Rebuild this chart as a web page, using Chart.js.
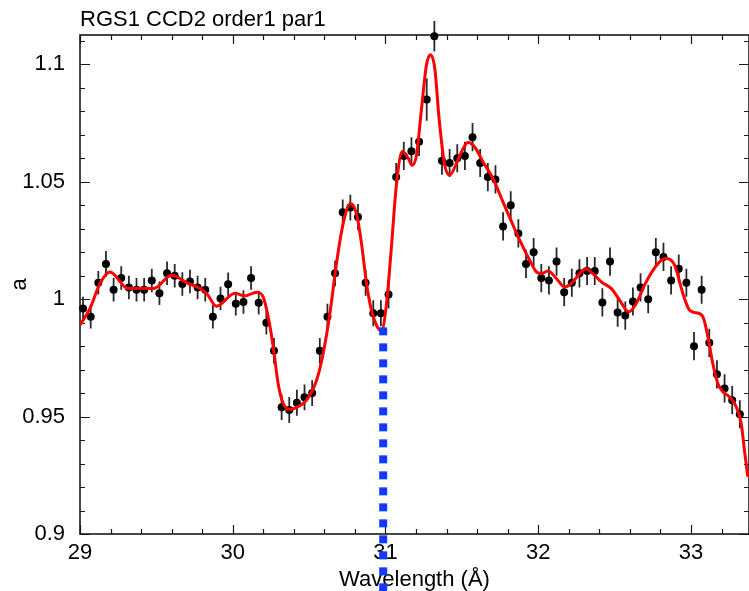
<!DOCTYPE html>
<html>
<head>
<meta charset="utf-8">
<script src="https://cdn.jsdelivr.net/npm/chart.js@4.4.1/dist/chart.umd.min.js"></script>
<style>
  html, body { margin: 0; padding: 0; background: #fff; }
  canvas { display: block; }
</style>
</head>
<body>
<canvas id="chart" width="749" height="591"></canvas>
<script>
const chartTitle = 'RGS1 CCD2 order1 par1';
const xTitle = 'Wavelength (Å)';
const yTitle = 'a';
const xTicks = [29, 30, 31, 32, 33];
const yTicks = [0.9, 0.95, 1, 1.05, 1.1];

// measured points (wavelength, value, error)
const dataX = [
  29.02, 29.07, 29.12, 29.17, 29.22, 29.27, 29.32, 29.37, 29.42, 29.47,
  29.52, 29.57, 29.62, 29.67, 29.72, 29.77, 29.82, 29.87, 29.92, 29.97,
  30.02, 30.07, 30.12, 30.17, 30.22, 30.27, 30.32, 30.37, 30.42, 30.47,
  30.52, 30.57, 30.62, 30.67, 30.72, 30.77, 30.82, 30.87, 30.92, 30.97,
  31.02, 31.07, 31.12, 31.17, 31.22, 31.27, 31.32, 31.37, 31.42, 31.47,
  31.52, 31.57, 31.62, 31.67, 31.72, 31.77, 31.82, 31.87, 31.92, 31.97,
  32.02, 32.07, 32.12, 32.17, 32.22, 32.27, 32.32, 32.37, 32.42, 32.47,
  32.52, 32.57, 32.62, 32.67, 32.72, 32.77, 32.82, 32.87, 32.92, 32.97,
  33.02, 33.07, 33.12, 33.17, 33.22, 33.27, 33.32
];
const dataY = [
  0.996, 0.9925, 1.007, 1.015, 1.004, 1.009, 1.005, 1.004, 1.004, 1.008,
  1.0025, 1.011, 1.010, 1.0065, 1.0075, 1.005, 1.004, 0.9925, 1.0003, 1.0064,
  0.998, 0.9988, 1.009, 0.9985, 0.990, 0.978, 0.954, 0.9528, 0.9559, 0.9582,
  0.960, 0.978, 0.9925, 1.011, 1.037, 1.039, 1.035, 1.007, 0.994, 0.994,
  1.002, 1.052, 1.061, 1.063, 1.067, 1.085, 1.112, 1.059, 1.058, 1.060,
  1.061, 1.069, 1.058, 1.052, 1.051, 1.031, 1.040, 1.028, 1.015, 1.020,
  1.009, 1.008, 1.016, 1.003, 1.007, 1.011, 1.012, 1.012, 0.9986, 1.016,
  0.9943, 0.993, 0.999, 1.005, 1.000, 1.020, 1.018, 1.008, 1.013, 1.007,
  0.980, 1.004, 0.9814, 0.968, 0.962, 0.957, 0.951
];
const dataErr = [
  0.005, 0.005, 0.005, 0.0055, 0.005, 0.005, 0.005, 0.005, 0.005, 0.005,
  0.005, 0.005, 0.005, 0.005, 0.005, 0.005, 0.005, 0.005, 0.005, 0.005,
  0.005, 0.005, 0.005, 0.005, 0.005, 0.0055, 0.0055, 0.0055, 0.0055, 0.0055,
  0.0055, 0.0055, 0.0055, 0.0055, 0.0055, 0.0055, 0.0055, 0.0055, 0.0055, 0.0055,
  0.006, 0.006, 0.006, 0.006, 0.006, 0.009, 0.0065, 0.006, 0.006, 0.006,
  0.006, 0.006, 0.006, 0.006, 0.006, 0.006, 0.006, 0.006, 0.006, 0.006,
  0.006, 0.006, 0.006, 0.006, 0.006, 0.006, 0.006, 0.006, 0.006, 0.006,
  0.006, 0.006, 0.006, 0.006, 0.006, 0.006, 0.006, 0.006, 0.006, 0.006,
  0.006, 0.006, 0.006, 0.006, 0.006, 0.006, 0.006
];

// model curve
const modelX = [
  29.000, 29.065, 29.131, 29.196, 29.316, 29.404, 29.480, 29.600, 29.709, 29.774,
  29.829, 29.894, 30.014, 30.079, 30.158, 30.199, 30.232, 30.265, 30.297, 30.330,
  30.374, 30.418, 30.483, 30.549, 30.592, 30.636, 30.679, 30.723, 30.771, 30.810,
  30.843, 30.876, 30.908, 30.941, 30.974, 31.007, 31.039, 31.072, 31.111, 31.148,
  31.174, 31.203, 31.236, 31.268, 31.294, 31.323, 31.351, 31.388, 31.421, 31.464,
  31.508, 31.540, 31.584, 31.639, 31.704, 31.769, 31.835, 31.879, 31.944, 31.988,
  32.021, 32.064, 32.119, 32.173, 32.217, 32.271, 32.310, 32.358, 32.413, 32.479,
  32.533, 32.592, 32.642, 32.696, 32.751, 32.806, 32.838, 32.893, 32.947, 32.991,
  33.035, 33.078, 33.111, 33.143, 33.176, 33.209, 33.252, 33.296, 33.329, 33.350,
  33.372
];
const modelY = [
  0.989, 0.996, 1.0067, 1.0116, 1.0045, 1.0047, 1.0045, 1.0102, 1.0067, 1.005,
  1.0024, 0.997, 1.0025, 1.0014, 1.003, 1.001, 0.9925, 0.9797, 0.9641, 0.9556,
  0.953, 0.9539, 0.957, 0.9655, 0.9769, 0.9939, 1.0152, 1.0322, 1.0407, 1.0364,
  1.0237, 1.0067, 0.9953, 0.9889, 0.9865, 0.9982, 1.0223, 1.049, 1.063, 1.0601,
  1.057, 1.0613, 1.0811, 1.0996, 1.1041, 1.0982, 1.0769, 1.057, 1.0528, 1.0577,
  1.0641, 1.0667, 1.0648, 1.0584, 1.0514, 1.0414, 1.0315, 1.0251, 1.0166, 1.0116,
  1.0109, 1.012, 1.0088, 1.0052, 1.0067, 1.0109, 1.013, 1.0109, 1.0074, 1.0045,
  0.9996, 0.9946, 0.9982, 1.006, 1.0123, 1.0166, 1.0173, 1.0145, 1.0024, 0.9953,
  0.9942, 0.9925, 0.984, 0.9726, 0.9641, 0.9606, 0.9584, 0.9542, 0.9471, 0.9357,
  0.9244
];

// blue dotted marker
const markerX = [30.985, 30.985];
const markerY = [0.988, 0.87];

const X_MIN = 29, X_MAX = 33.38, Y_MIN = 0.9, Y_MAX = 1.1125;
const FONT = 'Liberation Sans';

const toXY = (xs, ys) => xs.map((v, i) => ({ x: v, y: ys[i] }));

// frame with inward ticks on all four sides
const frameTicks = {
  id: 'frameTicks',
  beforeDatasetsDraw(chart) {
    const { ctx, chartArea: a, scales: { x, y } } = chart;
    ctx.save();
    ctx.strokeStyle = '#1a1a1a';
    ctx.lineWidth = 1.2;
    ctx.beginPath();
    for (let i = 0; X_MIN + i * 0.2 <= X_MAX + 1e-9; i++) {
      const px = Math.round(x.getPixelForValue(X_MIN + i * 0.2)) + 0.5;
      const len = i % 5 === 0 ? 9 : 5;
      ctx.moveTo(px, a.bottom); ctx.lineTo(px, a.bottom - len);
      ctx.moveTo(px, a.top); ctx.lineTo(px, a.top + len);
    }
    for (let i = 0; Y_MIN + i * 0.01 <= Y_MAX + 1e-9; i++) {
      const py = Math.round(y.getPixelForValue(Y_MIN + i * 0.01)) + 0.5;
      const len = i % 5 === 0 ? 10 : 5;
      ctx.moveTo(a.left, py); ctx.lineTo(a.left + len, py);
      ctx.moveTo(a.right, py); ctx.lineTo(a.right - len, py);
    }
    ctx.stroke();
    ctx.lineWidth = 1.6;
    ctx.strokeRect(a.left, a.top, a.right - a.left, a.bottom - a.top);
    ctx.restore();
  }
};

// vertical error bars under the black points
const errorBars = {
  id: 'errorBars',
  beforeDatasetDraw(chart, args) {
    if (args.index !== 2) return;
    const { ctx, scales: { x, y } } = chart;
    ctx.save();
    ctx.strokeStyle = '#2a2a2a';
    ctx.lineWidth = 1.8;
    ctx.beginPath();
    dataX.forEach((v, i) => {
      const px = x.getPixelForValue(v);
      ctx.moveTo(px, y.getPixelForValue(dataY[i] - dataErr[i]));
      ctx.lineTo(px, y.getPixelForValue(dataY[i] + dataErr[i]));
    });
    ctx.stroke();
    ctx.restore();
  }
};

const titleText = {
  id: 'titleText',
  afterDraw(chart) {
    const { ctx, chartArea: a } = chart;
    ctx.save();
    ctx.fillStyle = '#000';
    ctx.font = '22px "' + FONT + '"';
    ctx.textAlign = 'left';
    ctx.textBaseline = 'alphabetic';
    ctx.fillText(chartTitle, a.left, 26);
    ctx.restore();
  }
};

new Chart(document.getElementById('chart'), {
  type: 'scatter',
  data: {
    datasets: [
      {
        data: toXY(markerX, markerY),
        showLine: true,
        borderColor: '#0f3cff',
        borderWidth: 8,
        borderDash: [8, 8],
        borderCapStyle: 'butt',
        pointRadius: 0,
        clip: false
      },
      {
        data: toXY(modelX, modelY),
        showLine: true,
        borderColor: '#ff0000',
        borderWidth: 3,
        cubicInterpolationMode: 'monotone',
        pointRadius: 0
      },
      {
        data: toXY(dataX, dataY),
        pointRadius: 4,
        pointBackgroundColor: '#000',
        pointBorderWidth: 0,
        clip: false
      }
    ]
  },
  options: {
    responsive: false,
    animation: false,
    devicePixelRatio: 1,
    events: [],
    layout: { autoPadding: false, padding: { top: 35, right: 0, left: 0, bottom: 0 } },
    plugins: { legend: { display: false }, tooltip: { enabled: false } },
    scales: {
      x: {
        type: 'linear',
        min: X_MIN,
        max: X_MAX,
        afterBuildTicks: s => { s.ticks = xTicks.map(v => ({ value: v })); },
        afterFit: s => { s.height = 57; s.paddingLeft = 0; s.paddingRight = 0; },
        grid: { display: false, drawTicks: false },
        border: { display: false },
        ticks: { color: '#000', font: { family: FONT, size: 22 }, padding: 6, maxRotation: 0, autoSkip: false },
        title: { display: true, text: xTitle, color: '#000', font: { family: FONT, size: 22, lineHeight: 1 }, padding: { top: 0, bottom: 0 } }
      },
      y: {
        type: 'linear',
        min: Y_MIN,
        max: Y_MAX,
        afterBuildTicks: s => { s.ticks = yTicks.map(v => ({ value: v })); },
        afterFit: s => { s.width = 80; },
        grid: { display: false, drawTicks: false },
        border: { display: false },
        ticks: { color: '#000', font: { family: FONT, size: 22 }, padding: 15, callback: v => String(+v.toFixed(3)) },
        title: { display: true, text: yTitle, color: '#000', font: { family: FONT, size: 22 }, padding: { top: 7, bottom: 0 } }
      }
    }
  },
  plugins: [frameTicks, errorBars, titleText]
});
</script>
</body>
</html>
